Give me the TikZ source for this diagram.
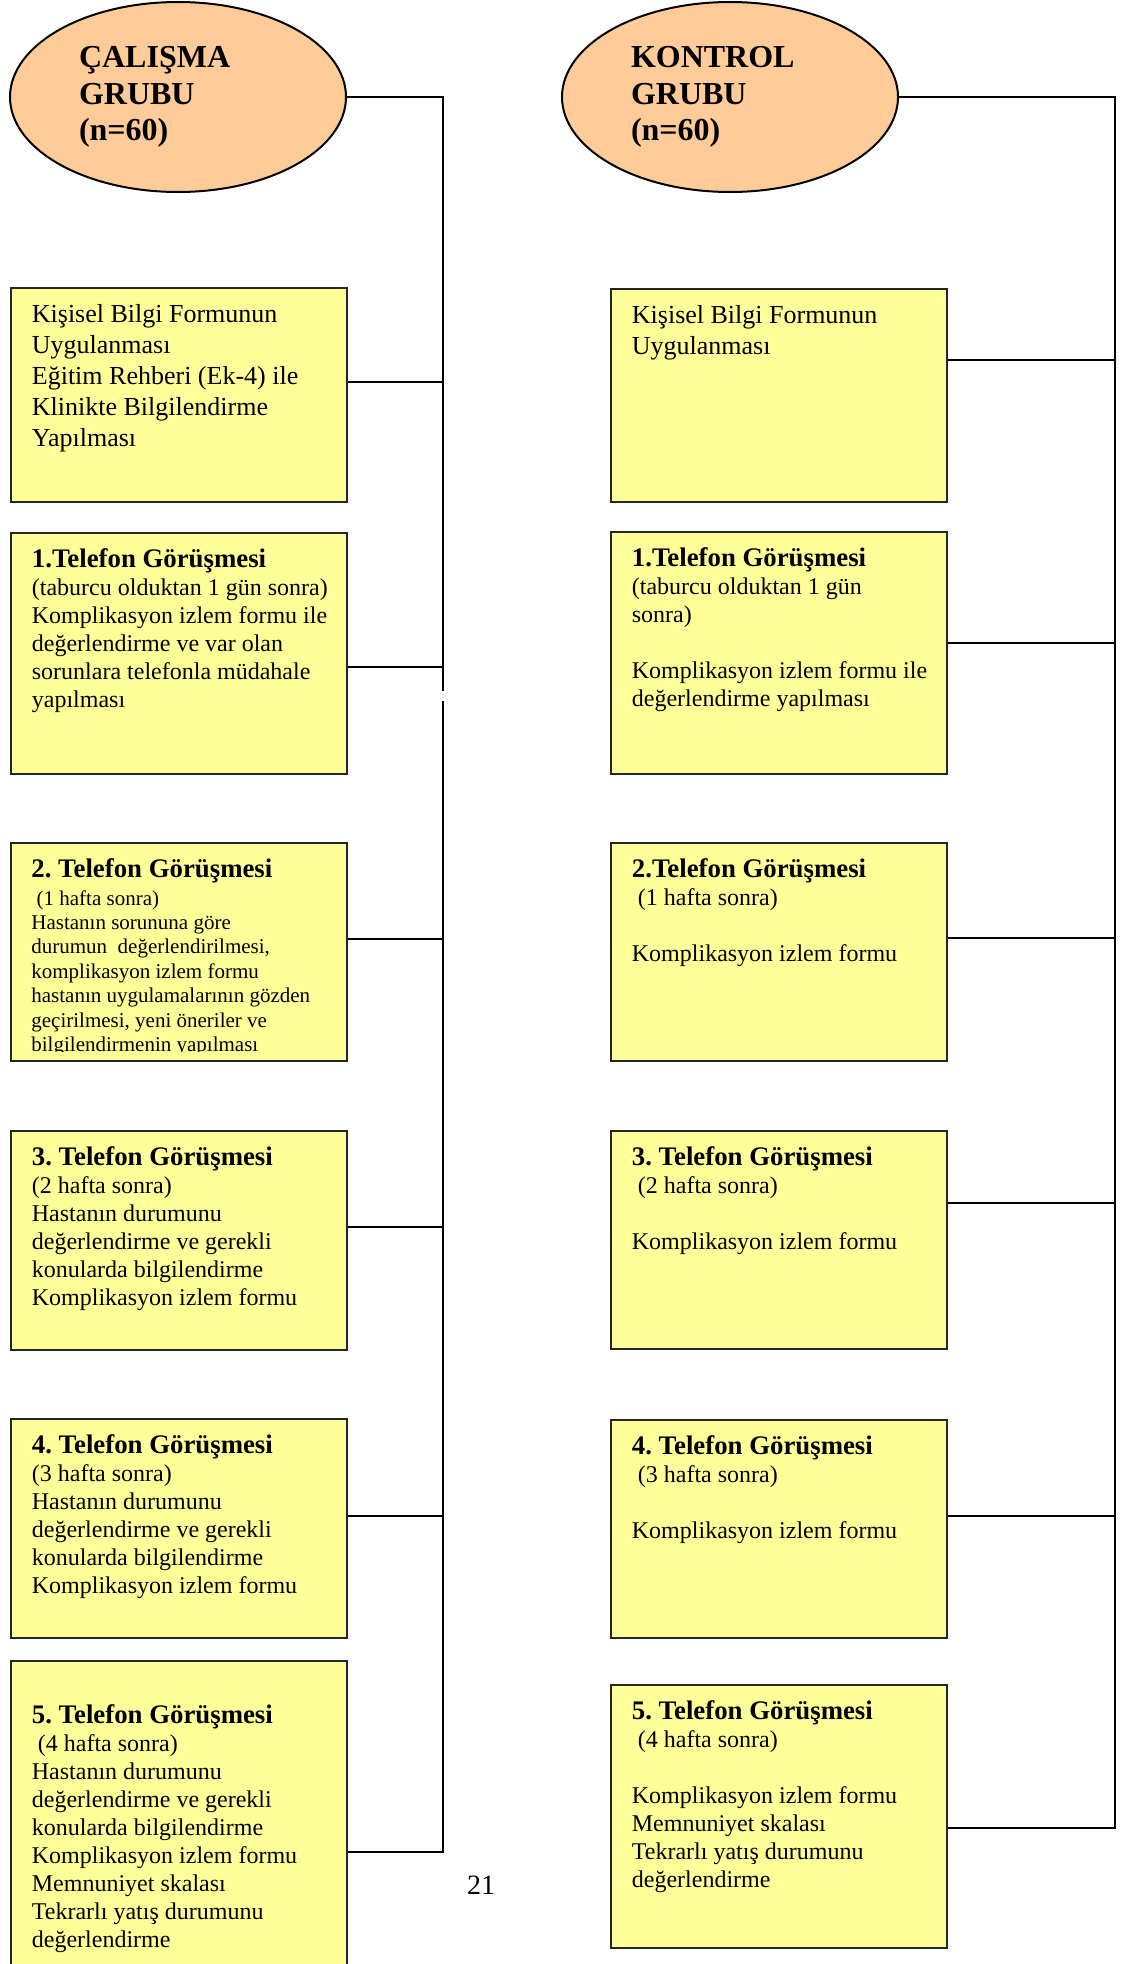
\documentclass[tikz,border=0pt]{standalone}
\usepackage{fontspec}
\setmainfont{Liberation Serif}
\usetikzlibrary{shapes.geometric}

\definecolor{sari}{HTML}{FFFF99}
\definecolor{elips}{HTML}{FFCC99}

% yazi boyutlari
\newcommand{\govde}{\fontsize{12}{14}\selectfont}
\newcommand{\iri}{\fontsize{13}{15.4}\selectfont}
\newcommand{\baslik}{\fontsize{13.4}{14}\selectfont\bfseries}
\newcommand{\ufak}{\fontsize{10.5}{12.2}\selectfont}
\newcommand{\kutuyazi}[2]{\parbox[c][#1][t]{168pt}{\frenchspacing\leftskip=10.5pt\rightskip=0pt plus 1fil\parindent=0pt\parskip=0pt\rule{0pt}{17.5pt}#2}}

\tikzset{
    grup/.style={ellipse, draw=black, line width=1pt, fill=elips, minimum width=168pt, minimum height=95pt,
        text width=99pt, align=left, inner sep=0pt, font=\fontsize{16}{18.3}\selectfont\bfseries},
    kutu/.style={rectangle, draw=black!85, line width=0.9pt, fill=sari, anchor=north west, inner sep=0pt},
    yazi/.style={anchor=north west, inner sep=0pt},
    hat/.style={line width=1pt}
}

\begin{document}
\begin{tikzpicture}[x=0.5pt, y=-0.5pt]
    \useasboundingbox (0,0) rectangle (1130,1964);

    % Gruplar
    \node[grup] (cgrup) at (178,97) {ÇALIŞMA\\GRUBU\\(n=60)};
    \node[grup] (kgrup) at (730,97) {KONTROL\\GRUBU\\(n=60)};

    % Çalışma grubu kutuları
    \node[kutu] (cbilgi) at (10,287) {\kutuyazi{107pt}{{\iri Kişisel Bilgi Formunun\\ Uygulanması\\ Eğitim Rehberi (Ek-4) ile\\ Klinikte Bilgilendirme\\ Yapılması\par}}};
    \node[kutu] (ctel1) at (10,532) {\kutuyazi{120.5pt}{{\baslik 1.Telefon Görüşmesi\par}{\govde (taburcu olduktan 1 gün sonra)\\ Komplikasyon izlem formu ile\\ değerlendirme ve var olan\\ sorunlara telefonla müdahale\\ yapılması\par}}};
    \node[kutu] (ctel2) at (10,842) {\kutuyazi{109pt}{}};
    \begin{scope}
        \clip (ctel2.north west) rectangle ([yshift=5pt]ctel2.south east);
        \node[yazi] (ctel2yazi) at (ctel2.north west) {\kutuyazi{109pt}{{\baslik 2. Telefon Görüşmesi\par}\vspace{1.6pt}{\ufak ~(1 hafta sonra)\\ Hastanın sorununa göre\\ durumun~ değerlendirilmesi,\\ komplikasyon izlem formu\\ hastanın uygulamalarının gözden\\ geçirilmesi, yeni öneriler ve\\ bilgilendirmenin yapılması\par}}};
    \end{scope}
    \node[kutu] (ctel3) at (10,1130) {\kutuyazi{109.5pt}{{\baslik 3. Telefon Görüşmesi\par}{\govde (2 hafta sonra)\\ Hastanın durumunu\\ değerlendirme ve gerekli\\ konularda bilgilendirme\\ Komplikasyon izlem formu\par}}};
    \node[kutu] (ctel4) at (10,1418) {\kutuyazi{109.5pt}{{\baslik 4. Telefon Görüşmesi\par}{\govde (3 hafta sonra)\\ Hastanın durumunu\\ değerlendirme ve gerekli\\ konularda bilgilendirme\\ Komplikasyon izlem formu\par}}};
    \node[kutu] (ctel5) at (10,1660) {\kutuyazi{175pt}{\par{\baslik 5. Telefon Görüşmesi\par}{\govde ~(4 hafta sonra)\\ Hastanın durumunu\\ değerlendirme ve gerekli\\ konularda bilgilendirme\\ Komplikasyon izlem formu\\ Memnuniyet skalası\\ Tekrarlı yatış durumunu\\ değerlendirme\par}}};

    % Kontrol grubu kutuları
    \node[kutu] (kbilgi) at (610,288) {\kutuyazi{106.5pt}{{\iri Kişisel Bilgi Formunun\\ Uygulanması\par}}};
    \node[kutu] (ktel1) at (610,531) {\kutuyazi{121pt}{{\baslik 1.Telefon Görüşmesi\par}{\govde (taburcu olduktan 1 gün\\ sonra)\\[14pt] Komplikasyon izlem formu ile\\ değerlendirme yapılması\par}}};
    \node[kutu] (ktel2) at (610,842) {\kutuyazi{109pt}{{\baslik 2.Telefon Görüşmesi\par}{\govde ~(1 hafta sonra)\\[14pt] Komplikasyon izlem formu\par}}};
    \node[kutu] (ktel3) at (610,1130) {\kutuyazi{109pt}{{\baslik 3. Telefon Görüşmesi\par}{\govde ~(2 hafta sonra)\\[14pt] Komplikasyon izlem formu\par}}};
    \node[kutu] (ktel4) at (610,1419) {\kutuyazi{109pt}{{\baslik 4. Telefon Görüşmesi\par}{\govde ~(3 hafta sonra)\\[14pt] Komplikasyon izlem formu\par}}};
    \node[kutu] (ktel5) at (610,1684) {\kutuyazi{131.5pt}{{\baslik 5. Telefon Görüşmesi\par}{\govde ~(4 hafta sonra)\\[14pt] Komplikasyon izlem formu\\ Memnuniyet skalası\\ Tekrarlı yatış durumunu\\ değerlendirme\par}}};

    % Sayfa numarası
    \node[font=\fontsize{14}{16}\selectfont] (sayfa) at (481,1885) {21};

    % Dikey hatlar
    \coordinate (ccizgi) at (443,0);
    \coordinate (kcizgi) at (1115,0);
    \coordinate (cara1) at (443,691);
    \coordinate (cara2) at (443,701);
    \path ([yshift=-96pt]ctel5.north east) coordinate (cbag5);
    \path ([yshift=-72pt]ktel5.north east) coordinate (kbag5);
    \draw[hat] (cgrup.east) -| (cara1);
    \draw[hat] (cara2) |- (cbag5);
    \draw[hat] (kgrup.east) -| (kbag5 -| kcizgi) -- (kbag5);

    % Yatay hatlar
    \foreach \ad/\dy in {cbilgi/47.5, ctel1/67.5, ctel2/48.5, ctel3/48.5, ctel4/49} {
        \path ([yshift=-\dy pt]\ad.north east) coordinate (b\ad);
        \draw[hat] (b\ad) -- (b\ad -| ccizgi);
    }
    \foreach \ad/\dy in {kbilgi/36, ktel1/56, ktel2/48, ktel3/36.5, ktel4/48.5} {
        \path ([yshift=-\dy pt]\ad.north east) coordinate (b\ad);
        \draw[hat] (b\ad) -- (b\ad -| kcizgi);
    }
\end{tikzpicture}
\end{document}
